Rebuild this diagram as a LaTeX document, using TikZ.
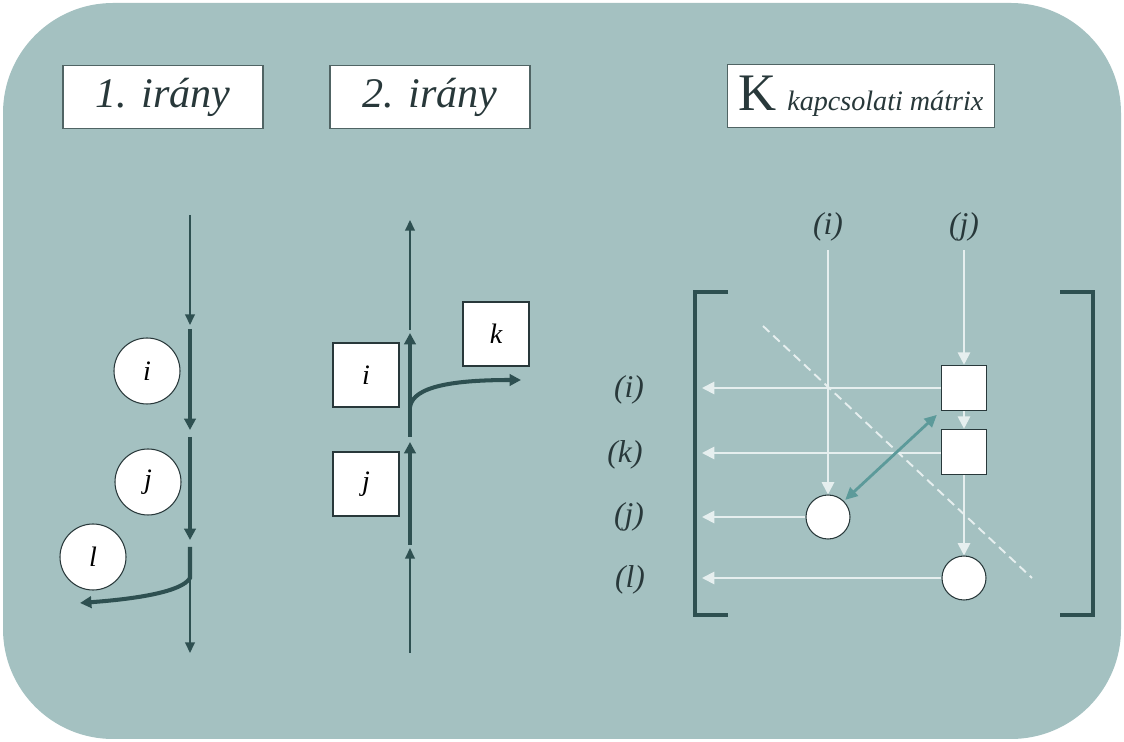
\documentclass[tikz,border=0pt]{standalone}
\usepackage{fontspec}
\setmainfont{Liberation Serif}
\usetikzlibrary{arrows.meta,positioning}

\definecolor{bgteal}{RGB}{164,193,193}
\definecolor{darkline}{RGB}{46,80,81}
\definecolor{lightline}{RGB}{230,239,239}
\definecolor{linkteal}{RGB}{92,154,154}
\definecolor{boxline}{RGB}{80,100,100}
\definecolor{inkdark}{RGB}{40,56,58}

\begin{document}
\begin{tikzpicture}[
    x=0.2mm, y=-0.2mm,
    title/.style={draw=boxline,fill=white,line width=0.8pt,inner sep=0pt,
                  minimum width=4cm,minimum height=1.26cm,text=inkdark,
                  font=\fontsize{24}{28}\selectfont\itshape},
    ball/.style={circle,draw=inkdark,fill=white,line width=0.6pt,inner sep=0pt,
                 minimum size=1.32cm,font=\fontsize{16}{18}\selectfont\itshape},
    card/.style={ball,rectangle,minimum width=1.32cm,minimum height=1.28cm},
    sq/.style={draw=inkdark,fill=white,line width=0.9pt,minimum size=0.9cm,inner sep=0pt},
    dot/.style={circle,draw=inkdark,fill=white,line width=0.6pt,minimum size=0.88cm,inner sep=0pt},
    lab/.style={text=inkdark,inner sep=3pt,font=\fontsize{18}{20}\selectfont\itshape},
    dark/.style={draw=darkline,line width=0.8pt,-{Triangle[length=6pt,width=5.5pt]}},
    heavy/.style={draw=darkline,line width=2.3pt,-{Triangle[length=6.5pt,width=6.5pt]}},
    light/.style={draw=lightline,line width=1.1pt,-{Triangle[length=7pt,width=7pt]}},
    link/.style={draw=linkteal,line width=1.6pt,{Triangle[length=7pt,width=6.5pt]}-{Triangle[length=7pt,width=6.5pt]}},
    bracket/.style={draw=darkline,line width=2.8pt},
  ]

  % --- background ---
  \useasboundingbox (0,0) rectangle (1124,742);
  \fill[bgteal,rounded corners=2.2cm] (3,3) rectangle (1121,739);

  % --- headings ---
  \node[title] (t1) at (163,97) {1. irány};
  \node[title] (t2) at (430,97) {2. irány};
  \node[title,minimum width=5.34cm] (t3) at (861,96)
    {{\fontsize{30}{32}\selectfont\upshape K} {\fontsize{16}{18}\selectfont kapcsolati mátrix}};

  % --- 1. irany: flow downwards ---
  \coordinate (a0) at (190,215);
  \coordinate (a1) at (190,325);
  \coordinate (a2) at (190,329);
  \coordinate (a3) at (190,430);
  \coordinate (a4) at (190,437);
  \coordinate (a5) at (190,540);
  \coordinate (a6) at (190,547);
  \coordinate (a7) at (190,578);
  \coordinate (a8) at (190,653);
  \coordinate (a9) at (80,603);
  \draw[dark]  (a0) -- (a1);
  \draw[heavy] (a2) -- (a3);
  \draw[heavy] (a4) -- (a5);
  \draw[heavy] (a6) -- (a7) .. controls (182,592) and (135,599) .. (a9);
  \draw[dark]  (a7) -- (a8);

  \node[ball] (n1i) at (147,371) {i};
  \node[ball] (n1j) at (148,482) {j};
  \node[ball] (n1l) at (93,557)  {l};

  % --- 2. irany: flow upwards ---
  \coordinate (b0) at (410,653);
  \coordinate (b1) at (410,548);
  \coordinate (b2) at (410,545);
  \coordinate (b3) at (410,442);
  \coordinate (b4) at (410,437);
  \coordinate (b5) at (410,333);
  \coordinate (b6) at (410,330);
  \coordinate (b7) at (410,220);
  \coordinate (b8) at (410,407);
  \coordinate (b9) at (521,380);
  \draw[dark]  (b0) -- (b1);
  \draw[heavy] (b2) -- (b3);
  \draw[heavy] (b4) -- (b5);
  \draw[dark]  (b6) -- (b7);
  \draw[heavy] (b8) .. controls (413,386) and (455,380) .. (b9);

  \node[card] (n2i) at (366,375) {i};
  \node[card] (n2j) at (366,484) {j};
  \node[card] (n2k) at (496,334) {k};

  % --- K matrix: brackets ---
  \draw[bracket] (728,292) -| (695,615) -- (728,615);
  \draw[bracket] (1060,292) -| (1093,615) -- (1060,615);

  % --- K matrix: labels ---
  \node[lab] (ci) at (828,227) {(i)};
  \node[lab] (cj) at (964,227) {(j)};
  \node[lab] (ri) at (629,390) {(i)};
  \node[lab] (rk) at (625,455) {(k)};
  \node[lab] (rj) at (629,517) {(j)};
  \node[lab] (rl) at (630,580) {(l)};

  % --- K matrix: diagonal ---
  \coordinate (g0) at (763,326);
  \coordinate (g1) at (1032,578);
  \draw[lightline,line width=1.1pt,dash pattern=on 5pt off 3pt] (g0) -- (g1);

  % --- K matrix: entries ---
  \node[sq]  (s1) at (964,388) {};
  \node[sq]  (s2) at (964,452) {};
  \node[dot] (d1) at (828,517) {};
  \node[dot] (d2) at (964,578) {};

  \coordinate (ei) at (702,388);
  \coordinate (ek) at (702,453);
  \coordinate (ej) at (702,517);
  \coordinate (el) at (702,578);

  \draw[light,shorten <=2pt] (ci) -- (d1);
  \draw[light,shorten <=2pt] (cj) -- (s1);
  \draw[light] (s1) -- (s2);
  \draw[light] (s2) -- (d2);
  \draw[light] (s1) -- (ei);
  \draw[light] (s2.west |- ek) -- (ek);
  \draw[light] (d1) -- (ej);
  \draw[light] (d2) -- (el);
  \draw[link,shorten <=1pt,shorten >=3pt] (d1.45) -- (s1.south west);

\end{tikzpicture}
\end{document}
